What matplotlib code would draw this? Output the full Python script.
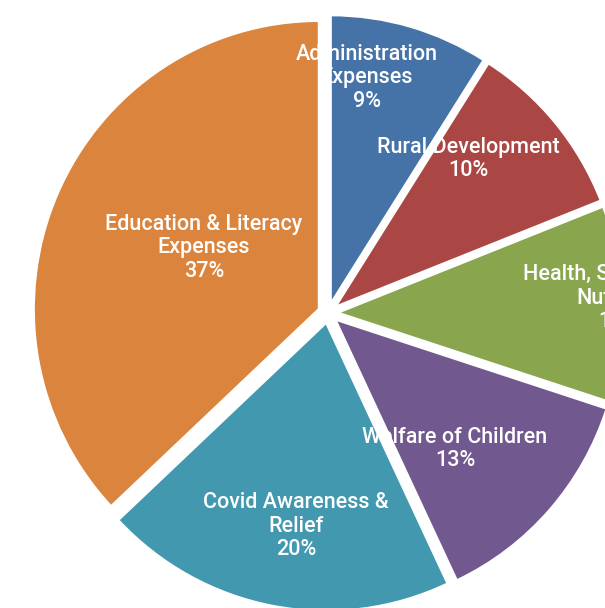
import matplotlib
matplotlib.use("Agg")
import matplotlib.pyplot as plt

categories = ["Administration\nExpenses", "Rural Development", "Health, Sanitation &\nNutrition",
              "Welfare of Children", "Covid Awareness &\nRelief", "Education & Literacy\nExpenses"]
values = [9, 10, 11, 13, 20, 37]
colors = ["#4572A7", "#AA4643", "#89A54E", "#71588F", "#4198AF", "#DB843D"]

# label anchor positions (pixel coords from top-left)
label_xy = [(367, 78), (468, 159), (618, 298), (455, 449), (296, 526), (204, 248)]

W, H = 605, 608
k = 288 / 285  # vertical stretch of the reference pie
fig = plt.figure(figsize=(W / 100, H / 100), dpi=100)
ax = fig.add_axes([0, 0, 1, 1])

cx, cy, R, d = 328, (H - 313) / k, 285, 10
ax.pie(values, colors=colors, startangle=90, counterclock=False, center=(cx, cy), radius=R,
       explode=[d] * len(values), wedgeprops=dict(edgecolor="white", linewidth=1.5))
ax.set_aspect("auto")
ax.set_xlim(0, W)
ax.set_ylim(0, H / k)
ax.axis("off")

for cat, v, (x, y) in zip(categories, values, label_xy):
    ax.text(x, (H - y) / k, f"{cat}\n{v}%", ha="center", va="center", color="white",
            fontsize=15.5, family="Roboto", fontweight="medium", linespacing=1.16, zorder=5)

fig.savefig("out.png", dpi=100)
